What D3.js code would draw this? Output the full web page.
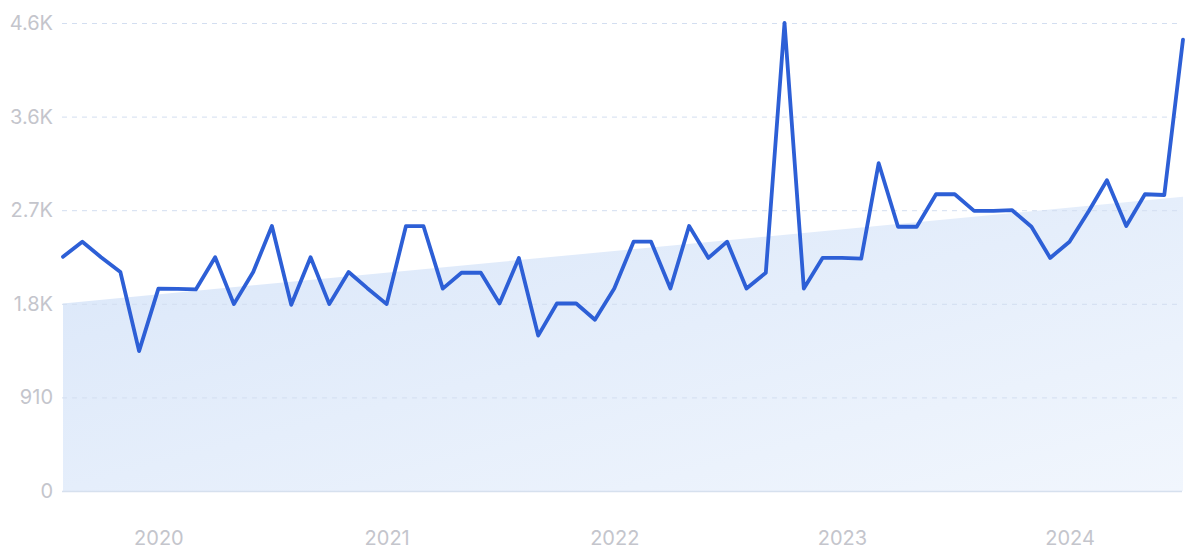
<!DOCTYPE html>
<html>
<head>
<meta charset="utf-8">
<script src="https://cdn.jsdelivr.net/npm/d3@7"></script>
<style>
  html, body { margin: 0; padding: 0; background: #ffffff; }
  svg { display: block; }
</style>
</head>
<body>
<svg id="chart" width="1200" height="553"></svg>
<script>
// ---- data ----
const startMonth = "2019-08";  // first monthly point
const values = [
  2277, 2424, 2273, 2129, 1360, 1968, 1965, 1960, 2273, 1817,
  2129, 2576, 1810, 2273, 1817, 2129, 1972, 1817, 2576, 2576,
  1968, 2122, 2122, 1823, 2266, 1511, 1823, 1823, 1665, 1968,
  2424, 2424, 1968, 2576, 2266, 2424, 1968, 2122, 4550, 1968,
  2266, 2266, 2259, 3187, 2569, 2569, 2885, 2885, 2723, 2723,
  2730, 2569, 2266, 2424, 2723, 3022, 2576, 2885, 2878, 4389
];
const trendValues = [1823, 2860];          // trend at first and last month
const yTickValues = [0, 910, 1820, 2730, 3640, 4550];
const yTickLabels = ["0", "910", "1.8K", "2.7K", "3.6K", "4.6K"];
const xTickLabels = ["2020", "2021", "2022", "2023", "2024"];

// ---- build ----
(function () {
const parse = d3.timeParse("%Y-%m");
const t0 = parse(startMonth);
const dates = values.map((v, i) => d3.timeMonth.offset(t0, i));
const series = values.map((v, i) => ({ date: dates[i], value: v }));
const trend = [
  { date: dates[0], value: trendValues[0] },
  { date: dates[dates.length - 1], value: trendValues[1] }
];

const svg = d3.select("#chart");
const m = { left: 63, right: 1183, top: 23, bottom: 491 };

const x = d3.scaleTime().domain(d3.extent(dates)).range([m.left, m.right]);
const y = d3.scaleLinear().domain([0, 4550]).range([m.bottom, m.top]);

// gradient for trend area
const defs = svg.append("defs");
const grad = defs.append("linearGradient")
  .attr("id", "trendGrad")
  .attr("x1", "0%").attr("y1", "0%").attr("x2", "100%").attr("y2", "100%");
grad.append("stop").attr("offset", "0%").attr("stop-color", "#d9e6f9");
grad.append("stop").attr("offset", "100%").attr("stop-color", "#f1f6fd");

// trend area
svg.append("path")
  .datum(trend)
  .attr("fill", "url(#trendGrad)")
  .attr("d", d3.area().x(d => x(d.date)).y0(y(0)).y1(d => y(d.value)));

// y grid + labels
const yAxis = d3.axisLeft(y)
  .tickValues(yTickValues)
  .tickFormat((d, i) => yTickLabels[i])
  .tickSize(-(m.right - m.left))
  .tickPadding(10);
const gy = svg.append("g")
  .attr("transform", `translate(${m.left - 1},0)`)
  .call(yAxis);
gy.select(".domain").remove();
gy.selectAll(".tick line")
  .attr("stroke", (d) => d === 0 ? "#d6e0ee" : "#d3def0")
  .attr("stroke-width", (d) => d === 0 ? 1.5 : 1)
  .attr("stroke-dasharray", (d) => d === 0 ? null : "5,5");
gy.selectAll(".tick text")
  .attr("x", -9)
  .attr("fill", "#c4c5cc")
  .style("font-family", "Inter, 'Noto Sans', sans-serif")
  .style("font-size", "20px");

// x axis labels
const xAxis = d3.axisBottom(x)
  .ticks(d3.timeYear.every(1))
  .tickFormat((d, i) => xTickLabels[i])
  .tickSize(0)
  .tickPadding(0);
const gx = svg.append("g")
  .attr("transform", `translate(0,${m.bottom})`)
  .call(xAxis);
gx.select(".domain").remove();
gx.selectAll(".tick text")
  .attr("y", 54)
  .attr("dy", 0)
  .attr("fill", "#c4c5cc")
  .style("font-family", "Inter, 'Noto Sans', sans-serif")
  .style("font-size", "20px");

// main line
svg.append("path")
  .datum(series)
  .attr("fill", "none")
  .attr("stroke", "#2d5fd6")
  .attr("stroke-width", 3.8)
  .attr("stroke-linejoin", "round")
  .attr("stroke-linecap", "round")
  .attr("d", d3.line().x(d => x(d.date)).y(d => y(d.value)));
})();
</script>
</body>
</html>
